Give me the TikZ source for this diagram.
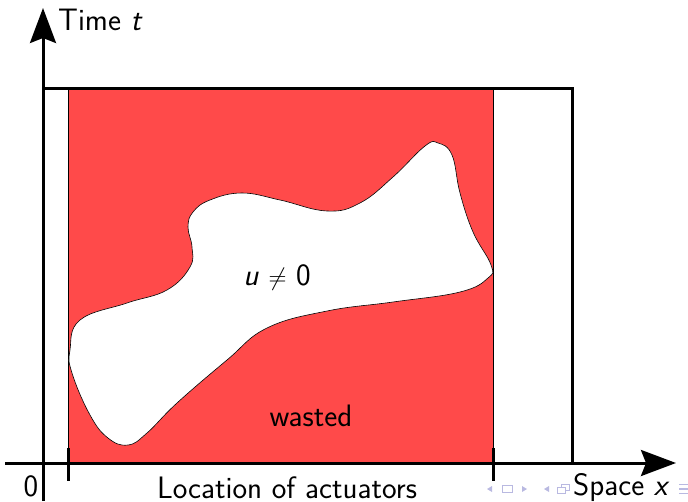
\documentclass[tikz,border=0pt]{standalone}
\usetikzlibrary{arrows.meta}
\definecolor{wastered}{RGB}{255,74,74}
\definecolor{navcol}{RGB}{185,185,225}
\begin{document}
\begin{tikzpicture}[x=1pt,y=-1pt,
  axis/.style={line width=3pt,-{Stealth[length=35pt,width=26pt,inset=5pt]}},
  frame/.style={line width=3pt},
  tick/.style={line width=3pt},
  lbl/.style={font=\fontsize{31}{35}\sffamily\selectfont,inner sep=0pt},
  nav/.style={fill=navcol,draw=none}]
\useasboundingbox (0,0) rectangle (688,501);
% red region
\fill[wastered] (68,88) rectangle (493,463);
\draw[line width=0.8pt] (68,88) -- (68,463) (493,88) -- (493,463);
% blob
\draw[fill=white,line width=0.6pt] plot[smooth cycle,tension=0.7] coordinates {
 (438,143) (452,155) (460,193) (473,232) (491,265) (488,278) (460,292)
 (393,302) (327,311) (267,328) (227,360) (177,403) (147,433) (128,445)
 (108,438) (90,415) (72,373) (70,350) (80,320) (127,303)
 (167,290) (190,267) (192,247) (188,227) (193,212) (210,200) (242,193)
 (280,200) (327,211) (360,203) (393,177) (425,146)};
% frame
\coordinate (tl) at (43,88);
\coordinate (tr) at (572,88);
\coordinate (br) at (572,463);
\draw[frame] (tl) -- (tr) -- (br);
% axes
\coordinate (yo) at (43,501);
\coordinate (ytip) at (43,8);
\coordinate (xo) at (5,463);
\coordinate (xtip) at (676,463);
\draw[axis] (yo) -- (ytip);
\draw[axis] (xo) -- (xtip);
% ticks
\draw[tick] (68,448) -- (68,481);
\draw[tick] (493,448) -- (493,481);
% labels
\node[lbl,anchor=west] (tlab) at (58,20) {Time \textit{t}};
\node[lbl] (zero) at (31,486) {0};
\node[lbl] (loc) at (287,488) {Location of actuators};
\node[lbl,anchor=west] (slab) at (573,488) {Space \textit{x}};
\node[lbl] (ulab) at (277,277) {\textit{u} $\neq$ 0};
\node[lbl] (wlab) at (311,416) {wasted};
% navigation symbols
\fill[nav] (487,489) -- (492,486) -- (492,492) -- cycle;
\draw[navcol,line width=1pt] (502,485.5) rectangle (512,492.5);
\fill[nav] (527,489) -- (522,486) -- (522,492) -- cycle;
\fill[nav] (544,489) -- (549,486) -- (549,492) -- cycle;
\draw[navcol,line width=1pt,fill=white] (561,484) rectangle (569,490);
\draw[navcol,line width=1pt,fill=white] (557,487) rectangle (565,493);
\draw[navcol,line width=1.2pt] (679,484.5) -- (688,484.5) (679,489) -- (688,489) (679,493.5) -- (688,493.5);
\end{tikzpicture}
\end{document}
